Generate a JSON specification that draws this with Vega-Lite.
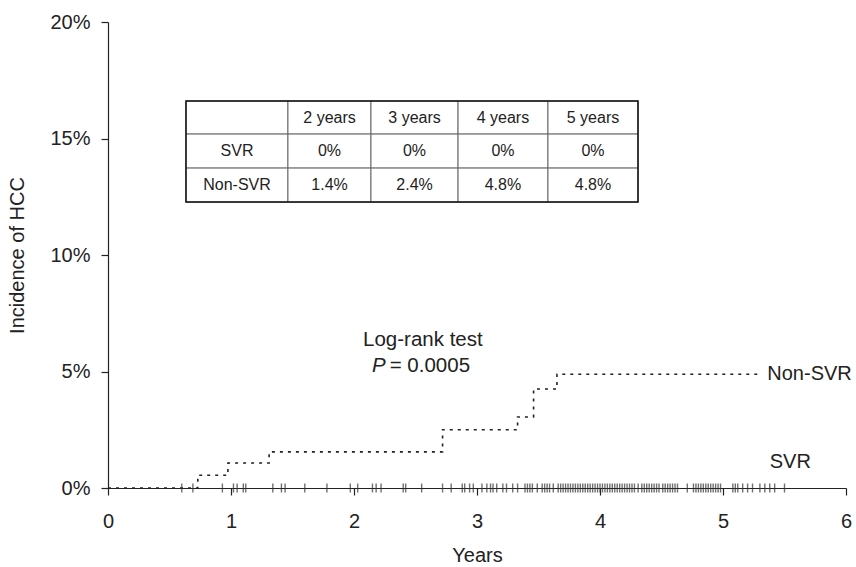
{
  "$schema": "https://vega.github.io/schema/vega-lite/v6.json",
  "width": 738,
  "height": 466,
  "autosize": {"type": "none"},
  "padding": {"left": 108, "top": 22, "right": 10, "bottom": 79},
  "background": "white",
  "config": {"view": {"stroke": null}, "font": "Liberation Sans"},
  "datasets": {
    "nonsvr": [
      {"t": 0, "p": 0},
      {"t": 0.73, "p": 0.0055},
      {"t": 0.975, "p": 0.0107},
      {"t": 1.31, "p": 0.0155},
      {"t": 2.72, "p": 0.025},
      {"t": 3.33, "p": 0.0305},
      {"t": 3.46, "p": 0.0425},
      {"t": 3.65, "p": 0.0488},
      {"t": 5.28, "p": 0.0488}
    ],
    "censor": [
      {"t":0.60,"p":0},{"t":0.69,"p":0},{"t":0.93,"p":0},{"t":1.02,"p":0},{"t":1.05,"p":0},{"t":1.10,"p":0},{"t":1.12,"p":0},{"t":1.34,"p":0},{"t":1.41,"p":0},{"t":1.44,"p":0},
      {"t":1.60,"p":0},{"t":1.78,"p":0},{"t":1.97,"p":0},{"t":2.03,"p":0},{"t":2.15,"p":0},{"t":2.18,"p":0},{"t":2.22,"p":0},{"t":2.40,"p":0},{"t":2.42,"p":0},{"t":2.55,"p":0},
      {"t":2.72,"p":0},{"t":2.79,"p":0},{"t":2.88,"p":0},{"t":2.90,"p":0},{"t":2.94,"p":0},{"t":2.97,"p":0},{"t":3.04,"p":0},{"t":3.08,"p":0},{"t":3.11,"p":0},{"t":3.13,"p":0},
      {"t":3.16,"p":0},{"t":3.21,"p":0},{"t":3.24,"p":0},{"t":3.29,"p":0},{"t":3.33,"p":0},{"t":3.39,"p":0},{"t":3.41,"p":0},{"t":3.43,"p":0},{"t":3.45,"p":0},{"t":3.49,"p":0},
      {"t":3.53,"p":0},{"t":3.55,"p":0},{"t":3.57,"p":0},{"t":3.59,"p":0},{"t":3.62,"p":0},{"t":3.66,"p":0},{"t":3.68,"p":0},{"t":3.70,"p":0},{"t":3.72,"p":0},{"t":3.74,"p":0},
      {"t":3.76,"p":0},{"t":3.78,"p":0},{"t":3.80,"p":0},{"t":3.82,"p":0},{"t":3.84,"p":0},{"t":3.86,"p":0},{"t":3.88,"p":0},{"t":3.90,"p":0},{"t":3.92,"p":0},{"t":3.94,"p":0},
      {"t":3.96,"p":0},{"t":3.98,"p":0},{"t":4.00,"p":0},{"t":4.02,"p":0},{"t":4.04,"p":0},{"t":4.06,"p":0},{"t":4.08,"p":0},{"t":4.10,"p":0},{"t":4.12,"p":0},{"t":4.14,"p":0},
      {"t":4.16,"p":0},{"t":4.18,"p":0},{"t":4.20,"p":0},{"t":4.22,"p":0},{"t":4.24,"p":0},{"t":4.26,"p":0},{"t":4.28,"p":0},{"t":4.31,"p":0},{"t":4.34,"p":0},{"t":4.36,"p":0},
      {"t":4.38,"p":0},{"t":4.40,"p":0},{"t":4.42,"p":0},{"t":4.44,"p":0},{"t":4.46,"p":0},{"t":4.48,"p":0},{"t":4.51,"p":0},{"t":4.53,"p":0},{"t":4.55,"p":0},{"t":4.57,"p":0},
      {"t":4.59,"p":0},{"t":4.61,"p":0},{"t":4.63,"p":0},{"t":4.71,"p":0},{"t":4.76,"p":0},{"t":4.78,"p":0},{"t":4.80,"p":0},{"t":4.82,"p":0},{"t":4.84,"p":0},{"t":4.86,"p":0},
      {"t":4.88,"p":0},{"t":4.90,"p":0},{"t":4.92,"p":0},{"t":4.94,"p":0},{"t":4.96,"p":0},{"t":4.98,"p":0},{"t":5.08,"p":0},{"t":5.10,"p":0},{"t":5.12,"p":0},{"t":5.16,"p":0},
      {"t":5.20,"p":0},{"t":5.24,"p":0},{"t":5.30,"p":0},{"t":5.34,"p":0},{"t":5.38,"p":0},{"t":5.42,"p":0},{"t":5.50,"p":0}
    ],
    "cells": [
      {"t": 0.634, "t2": 1.463, "p": 0.1661, "p2": 0.1519},
      {"t": 1.463, "t2": 2.138, "p": 0.1661, "p2": 0.1519},
      {"t": 2.138, "t2": 2.846, "p": 0.1661, "p2": 0.1519},
      {"t": 2.846, "t2": 3.577, "p": 0.1661, "p2": 0.1519},
      {"t": 3.577, "t2": 4.309, "p": 0.1661, "p2": 0.1519},
      {"t": 0.634, "t2": 1.463, "p": 0.1519, "p2": 0.1373},
      {"t": 1.463, "t2": 2.138, "p": 0.1519, "p2": 0.1373},
      {"t": 2.138, "t2": 2.846, "p": 0.1519, "p2": 0.1373},
      {"t": 2.846, "t2": 3.577, "p": 0.1519, "p2": 0.1373},
      {"t": 3.577, "t2": 4.309, "p": 0.1519, "p2": 0.1373},
      {"t": 0.634, "t2": 1.463, "p": 0.1373, "p2": 0.1227},
      {"t": 1.463, "t2": 2.138, "p": 0.1373, "p2": 0.1227},
      {"t": 2.138, "t2": 2.846, "p": 0.1373, "p2": 0.1227},
      {"t": 2.846, "t2": 3.577, "p": 0.1373, "p2": 0.1227},
      {"t": 3.577, "t2": 4.309, "p": 0.1373, "p2": 0.1227}
    ],
    "cellText": [
      {"t": 1.801, "p": 0.1590, "label": "2 years"},
      {"t": 2.492, "p": 0.1590, "label": "3 years"},
      {"t": 3.211, "p": 0.1590, "label": "4 years"},
      {"t": 3.943, "p": 0.1590, "label": "5 years"},
      {"t": 1.049, "p": 0.1446, "label": "SVR"},
      {"t": 1.801, "p": 0.1446, "label": "0%"},
      {"t": 2.492, "p": 0.1446, "label": "0%"},
      {"t": 3.211, "p": 0.1446, "label": "0%"},
      {"t": 3.943, "p": 0.1446, "label": "0%"},
      {"t": 1.049, "p": 0.1300, "label": "Non-SVR"},
      {"t": 1.801, "p": 0.1300, "label": "1.4%"},
      {"t": 2.492, "p": 0.1300, "label": "2.4%"},
      {"t": 3.211, "p": 0.1300, "label": "4.8%"},
      {"t": 3.943, "p": 0.1300, "label": "4.8%"}
    ]
  },
  "encoding": {
    "x": {
      "field": "t", "type": "quantitative",
      "scale": {"domain": [0, 6], "nice": false, "zero": false},
      "axis": {
        "title": "Years", "values": [0, 1, 2, 3, 4, 5, 6], "format": "d",
        "grid": false, "labelFontSize": 20, "titleFontSize": 20, "titleFontWeight": "normal",
        "tickSize": 7, "labelPadding": 16, "titlePadding": 14, "labelFlush": false,
        "domainColor": "#222", "tickColor": "#222", "labelColor": "#222", "titleColor": "#222",
        "domainWidth": 1.2, "tickWidth": 1.2
      }
    },
    "y": {
      "field": "p", "type": "quantitative",
      "scale": {"domain": [0, 0.2], "nice": false},
      "axis": {
        "title": "Incidence of HCC", "values": [0, 0.05, 0.1, 0.15, 0.2], "format": ".0%",
        "grid": false, "labelFontSize": 20, "titleFontSize": 20, "titleFontWeight": "normal",
        "tickSize": 7, "labelPadding": 11, "titlePadding": 22,
        "domainColor": "#222", "tickColor": "#222", "labelColor": "#222", "titleColor": "#222",
        "domainWidth": 1.2, "tickWidth": 1.2
      }
    }
  },
  "layer": [
    {
      "data": {"name": "cells"},
      "mark": {"type": "rect", "fill": "white", "stroke": "#666", "strokeWidth": 1},
      "encoding": {"x2": {"field": "t2"}, "y2": {"field": "p2"}}
    },
    {
      "data": {"values": [{"t": 0.634, "t2": 4.309, "p": 0.1661, "p2": 0.1227}]},
      "mark": {"type": "rect", "fill": null, "stroke": "#111", "strokeWidth": 1.5},
      "encoding": {"x2": {"field": "t2"}, "y2": {"field": "p2"}}
    },
    {
      "data": {"name": "cellText"},
      "mark": {"type": "text", "fontSize": 16, "color": "#222", "align": "center", "baseline": "middle"},
      "encoding": {"text": {"field": "label"}}
    },
    {
      "data": {"name": "nonsvr"},
      "mark": {"type": "line", "interpolate": "step-after", "strokeDash": [3, 5], "strokeWidth": 1.6, "color": "#222"},
      "encoding": {}
    },
    {
      "data": {"name": "censor"},
      "mark": {"type": "tick", "orient": "vertical", "size": 9, "thickness": 1.4, "color": "#333"},
      "encoding": {}
    },
    {
      "data": {"values": [
        {"t": 5.36, "p": 0.0488, "label": "Non-SVR"},
        {"t": 5.38, "p": 0.0112, "label": "SVR"}
      ]},
      "mark": {"type": "text", "fontSize": 20, "color": "#222", "align": "left", "baseline": "middle"},
      "encoding": {"text": {"field": "label"}}
    },
    {
      "data": {"values": [{"t": 2.56, "p": 0.0635, "label": "Log-rank test"}]},
      "mark": {"type": "text", "fontSize": 20.5, "color": "#222", "align": "center", "baseline": "middle"},
      "encoding": {"text": {"field": "label"}}
    },
    {
      "data": {"values": [{"t": 2.258, "p": 0.0524, "label": "P"}]},
      "mark": {"type": "text", "fontSize": 20.5, "fontStyle": "italic", "color": "#222", "align": "right", "baseline": "middle"},
      "encoding": {"text": {"field": "label"}}
    },
    {
      "data": {"values": [{"t": 2.29, "p": 0.0524, "label": "= 0.0005"}]},
      "mark": {"type": "text", "fontSize": 20.5, "color": "#222", "align": "left", "baseline": "middle"},
      "encoding": {"text": {"field": "label"}}
    }
  ]
}
